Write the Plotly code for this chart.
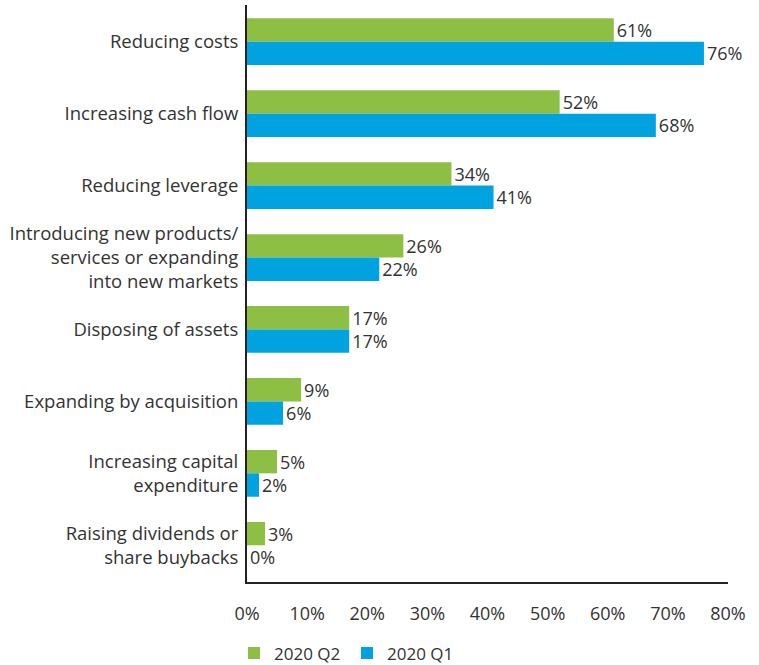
import plotly.graph_objects as go

categories = [
    "Reducing costs",
    "Increasing cash flow",
    "Reducing leverage",
    "Introducing new products/<br>services or expanding<br>into new markets",
    "Disposing of assets",
    "Expanding by acquisition",
    "Increasing capital<br>expenditure",
    "Raising dividends or<br>share buybacks",
]
q2_values = [61, 52, 34, 26, 17, 9, 5, 3]
q1_values = [76, 68, 41, 22, 17, 6, 2, 0]
x_ticks = [0, 10, 20, 30, 40, 50, 60, 70, 80]

GREEN = "#8cbf44"
BLUE = "#00a3e0"
TEXT = "#333333"
FONT = "Open Sans"

fig = go.Figure()
for name, vals, color in [("2020 Q2", q2_values, GREEN), ("2020 Q1", q1_values, BLUE)]:
    fig.add_trace(go.Bar(
        y=categories, x=vals, orientation="h", name=name,
        marker=dict(color=color, line=dict(width=0)),
        text=[f"{v}%" for v in vals], textposition="outside",
        constraintext="none", cliponaxis=False,
        textfont=dict(size=18, color=TEXT, family=FONT),
        hoverinfo="skip",
    ))

fig.update_layout(
    width=759, height=665,
    margin=dict(l=247, r=31, t=5, b=83, autoexpand=False),
    paper_bgcolor="white", plot_bgcolor="white",
    barmode="group", bargap=0.35, bargroupgap=0,
    font=dict(family=FONT, size=18, color=TEXT),
    showlegend=True,
    legend=dict(
        orientation="h", x=-0.027, xanchor="left", y=-0.124, yanchor="middle",
        font=dict(size=17, color=TEXT, family=FONT), traceorder="normal",
        itemwidth=30, entrywidth=68, entrywidthmode="pixels",
    ),
    xaxis=dict(
        range=[0, 80], tickvals=x_ticks, ticktext=[f"{v}%" for v in x_ticks],
        showgrid=False, zeroline=False, showline=True, linecolor="#222222",
        linewidth=2, ticks="", ticklabelstandoff=14,
        tickfont=dict(size=18, color=TEXT, family=FONT),
    ),
    yaxis=dict(
        categoryorder="array", categoryarray=categories,
        range=[7.51, -0.51], showgrid=False, zeroline=False,
        showline=True, linecolor="#222222", linewidth=2, ticks="",
        ticklabelstandoff=3,
        tickfont=dict(size=18.5, color=TEXT, family=FONT),
    ),
)

fig.write_html("out.html")
